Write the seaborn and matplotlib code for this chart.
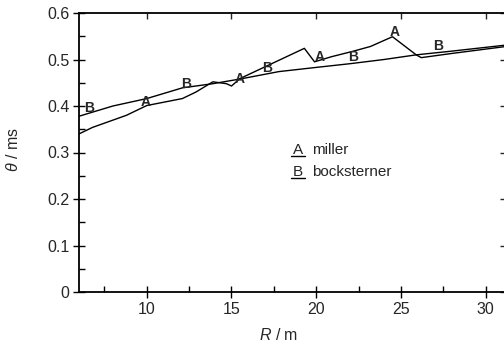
import matplotlib
matplotlib.use('Agg')

import numpy as np
import pandas as pd
import seaborn as sns
import matplotlib.pyplot as plt
from matplotlib.ticker import MultipleLocator

# 数据
miller_r = [6.0, 6.8, 8.8, 10.0, 12.1, 12.9, 13.9, 14.7, 15.0, 15.5, 19.3, 19.9,
            20.9, 22.1, 23.2, 24.5, 25.9, 26.2, 28.0, 31.2]
miller_theta = [0.340, 0.354, 0.380, 0.401, 0.416, 0.430, 0.452, 0.448, 0.443, 0.459,
                0.524, 0.495, 0.506, 0.517, 0.528, 0.549, 0.510, 0.504, 0.513, 0.528]

bock_r = [6.0, 8.0, 10.0, 12.1, 13.9, 15.5, 17.8, 20.0, 22.0, 24.0, 25.9, 28.0, 31.2]
bock_theta = [0.378, 0.400, 0.416, 0.439, 0.448, 0.458, 0.474, 0.483, 0.491, 0.500,
              0.510, 0.518, 0.531]

# 曲线上的字母标记位置
label_a_r = [9.95, 15.5, 20.2, 24.6]
label_a_theta = [0.409, 0.459, 0.505, 0.560]
label_b_r = [6.6, 12.3, 17.1, 22.2, 27.2]
label_b_theta = [0.396, 0.448, 0.481, 0.506, 0.528]

legend_keys = ['A', 'B']
legend_names = ['miller', 'bocksterner']

x_ticks = [10, 15, 20, 25, 30]
y_ticks = [0, 0.1, 0.2, 0.3, 0.4, 0.5, 0.6]

sns.set_style("ticks")
plt.rcParams['font.family'] = ['Liberation Sans', 'DejaVu Sans']
plt.rcParams['mathtext.fontset'] = 'custom'
plt.rcParams['mathtext.rm'] = 'Liberation Sans'
plt.rcParams['mathtext.it'] = 'Liberation Sans:italic'

df_a = pd.DataFrame({'R': miller_r, 'theta': miller_theta})
df_b = pd.DataFrame({'R': bock_r, 'theta': bock_theta})

fig = plt.figure(figsize=(5.04, 3.48), dpi=100)
ax = fig.add_axes([79 / 504, 1 - 292 / 348, 427 / 504, 279 / 348])

sns.lineplot(data=df_b, x='R', y='theta', color='black', lw=1.0, sort=False, ax=ax)
sns.lineplot(data=df_a, x='R', y='theta', color='black', lw=1.0, sort=False, ax=ax)

for r, t in zip(label_a_r, label_a_theta):
    ax.text(r, t, 'A', ha='center', va='center', fontsize=10, fontweight='bold')
for r, t in zip(label_b_r, label_b_theta):
    ax.text(r, t, 'B', ha='center', va='center', fontsize=10, fontweight='bold')

# 图例（手写文本 + 下划线）
for i, (key, name) in enumerate(zip(legend_keys, legend_names)):
    yc = 0.509 - i * 0.08
    ax.text(0.513, yc, key, transform=ax.transAxes, fontsize=11, va='center', ha='center')
    ax.plot([0.496, 0.530], [yc - 0.02, yc - 0.02], transform=ax.transAxes,
            color='black', lw=1.0)
    ax.text(0.545, yc, name, transform=ax.transAxes, fontsize=11, va='center', ha='left')

ax.set_xlim(6.0, 31.2)
ax.set_ylim(0, 0.6)
ax.set_xticks(x_ticks)
ax.set_yticks(y_ticks)
ax.set_yticklabels(['0', '0.1', '0.2', '0.3', '0.4', '0.5', '0.6'])
ax.xaxis.set_minor_locator(MultipleLocator(2.5))
ax.yaxis.set_minor_locator(MultipleLocator(0.05))
ax.tick_params(which='major', direction='inout', length=8, width=1, labelsize=11.5,
               color='black', pad=3)
ax.tick_params(which='minor', direction='in', length=4, width=1, color='black')

for side in ['top', 'right', 'left', 'bottom']:
    ax.spines[side].set_linewidth(1.3)
    ax.spines[side].set_color('black')

top = ax.secondary_xaxis('top')
top.set_xticks(x_ticks)
top.tick_params(direction='in', length=4, width=1, labeltop=False)
top.spines['top'].set_visible(False)
right = ax.secondary_yaxis('right')
right.set_yticks(y_ticks)
right.tick_params(direction='in', length=4, width=1, labelright=False)
right.spines['right'].set_visible(False)

ax.set_xlabel(r'$R$ / m', fontsize=11.5)
ax.set_ylabel(r'$\theta$ / ms', fontsize=11.5)
ax.xaxis.set_label_coords(0.468, -0.125)
ax.yaxis.set_label_coords(-0.135, 0.51)

fig.savefig('out.png', dpi=100)
